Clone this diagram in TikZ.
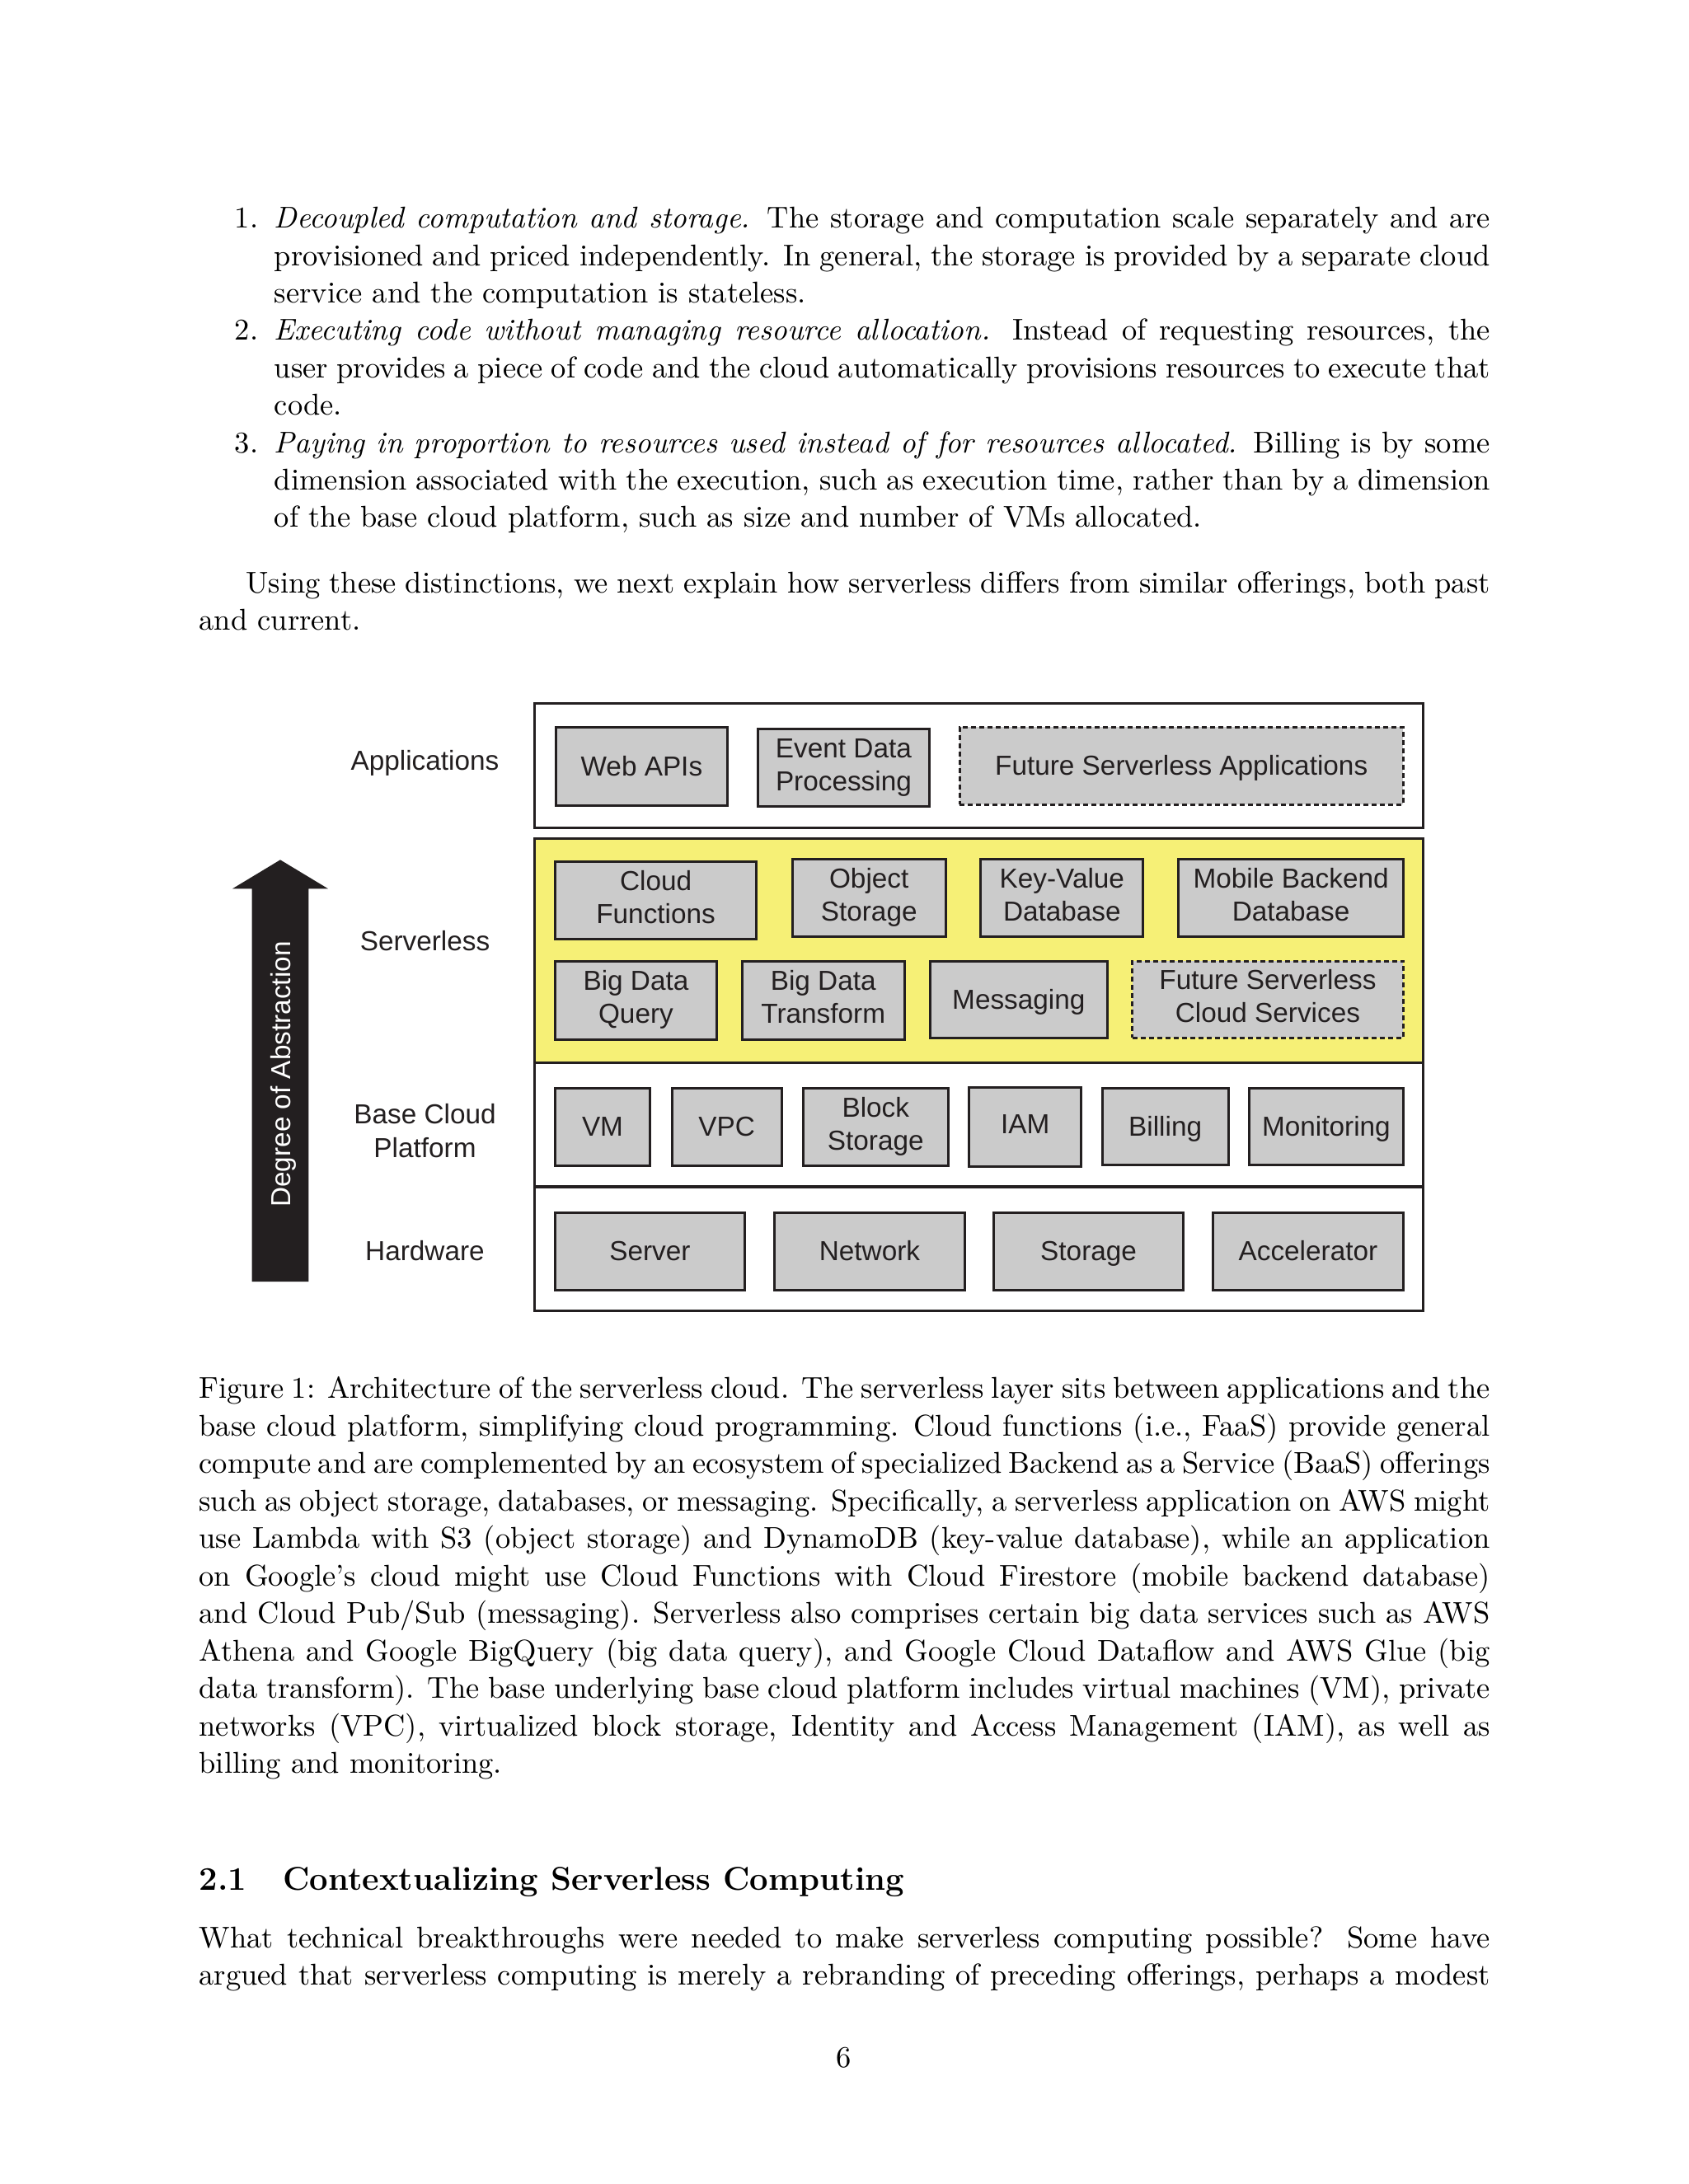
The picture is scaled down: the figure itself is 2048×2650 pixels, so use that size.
\documentclass[tikz,border=0pt]{standalone}
\usepackage{fontspec}
\newfontfamily\dfont{Liberation Sans}
\definecolor{ink}{RGB}{35,31,32}
\definecolor{boxgray}{RGB}{203,203,203}
\definecolor{slyellow}{RGB}{246,240,118}
\newcommand{\bodyfont}{\fontsize{10.95pt}{13.6pt}\selectfont}
\newcommand{\cbox}[6]{\node[#1, minimum width={(#5-#3)*0.29995pt}, minimum height={(#6-#4)*0.29995pt}] (#2) at ({(#3+#5)/2},{(#4+#6)/2}) {};}
\newcommand{\lone}[2]{\node[lab] (#1t) at ([yshift=-3.45pt]#1.center) {#2};}
\newcommand{\ltwo}[3]{\node[lab] (#1t) at ([yshift=3.6pt]#1.center) {#2};\node[lab] (#1u) at ([yshift=-8.4pt]#1.center) {#3};}
\newcommand{\jline}[5]{\node[body] (#1) at (#2,#3) {\makebox[#4][s]{#5}};}
\tikzset{
  layer/.style={draw=ink, line width=0.95pt, rectangle, inner sep=0pt},
  comp/.style={draw=ink, fill=boxgray, line width=0.9pt, rectangle, inner sep=0pt},
  future/.style={comp, dash pattern=on 1.8pt off 1.2pt},
  lab/.style={font={\dfont\fontsize{10pt}{12pt}\selectfont}, text=ink, inner sep=0pt, anchor=base},
  body/.style={font=\bodyfont, inner sep=0pt, anchor=base west, text=black}
}
\begin{document}
\begin{tikzpicture}[x=0.29995pt, y=-0.29995pt]
\useasboundingbox[fill=white] (0,0) rectangle (2048,2650);

% ---------- list ----------
\node[body, anchor=base east] (n1) at (314,276.7) {1.};
\jline{i1a}{332.3}{276.7}{442.38pt}{\textit{Decoupled computation and storage.} The storage and computation scale separately and are}
\jline{i1b}{332.3}{322.1}{442.38pt}{provisioned and priced independently. In general, the storage is provided by a separate cloud}
\node[body] (i1c) at (332.3,367.5) {service and the computation is stateless.};

\node[body, anchor=base east] (n2) at (314,412.9) {2.};
\jline{i2a}{332.3}{412.9}{442.38pt}{\textit{Executing code without managing resource allocation.} Instead of requesting resources, the}
\jline{i2b}{332.3}{458.3}{442.38pt}{user provides a piece of code and the cloud automatically provisions resources to execute that}
\node[body] (i2c) at (332.3,503.7) {code.};

\node[body, anchor=base east] (n3) at (314,549.1) {3.};
\jline{i3a}{332.3}{549.1}{442.38pt}{\textit{Paying in proportion to resources used instead of for resources allocated.} Billing is by some}
\jline{i3b}{332.3}{594.5}{442.38pt}{dimension associated with the execution, such as execution time, rather than by a dimension}
\node[body] (i3c) at (332.3,639.9) {of the base cloud platform, such as size and number of VMs allocated.};

\jline{p1a}{297.6}{719.3}{452.755pt}{Using these distinctions, we next explain how serverless differs from similar offerings, both past}
\node[body] (p1b) at (240.94,764.7) {and current.};

% ---------- figure ----------
\cbox{layer, fill=slyellow}{slayer}{648.6}{1017.7}{1726.5}{1289.3}
\cbox{layer, fill=white}{alayer}{648.6}{853.3}{1726.5}{1004.3}
\cbox{layer, fill=white}{blayer}{648.6}{1289.3}{1726.5}{1440}
\cbox{layer, fill=white}{hlayer}{648.6}{1440}{1726.5}{1590.7}

% applications
\cbox{comp}{web}{674.5}{882}{882.3}{977}
\cbox{comp}{edp}{919.6}{884}{1127.3}{978}
\cbox{future}{fsa}{1164}{882.3}{1702.4}{976}
\lone{web}{Web APIs}
\ltwo{edp}{Event Data}{Processing}
\lone{fsa}{Future Serverless Applications}

% serverless
\cbox{comp}{cf}{673.3}{1045}{917.9}{1139}
\cbox{comp}{os}{961}{1042.3}{1147.4}{1136.3}
\cbox{comp}{kv}{1189.8}{1042.3}{1386.9}{1136.3}
\cbox{comp}{mb}{1429.8}{1042.3}{1702.4}{1136.3}
\ltwo{cf}{Cloud}{Functions}
\ltwo{os}{Object}{Storage}
\ltwo{kv}{Key-Value}{Database}
\ltwo{mb}{Mobile Backend}{Database}
\cbox{comp}{bdq}{673.3}{1166.7}{869.6}{1261}
\cbox{comp}{bdt}{900}{1166.7}{1097.5}{1261}
\cbox{comp}{msg}{1128}{1166}{1343.7}{1259.3}
\cbox{future}{fsc}{1373.5}{1166}{1702.4}{1259.3}
\ltwo{bdq}{Big Data}{Query}
\ltwo{bdt}{Big Data}{Transform}
\lone{msg}{Messaging}
\ltwo{fsc}{Future Serverless}{Cloud Services}

% base cloud platform
\cbox{comp}{vm}{673.3}{1320}{788.7}{1414.3}
\cbox{comp}{vpc}{815.1}{1320}{948.3}{1414.3}
\cbox{comp}{bs}{974.1}{1320}{1150.5}{1414.3}
\cbox{comp}{iam}{1175.9}{1319.3}{1311.8}{1415.3}
\cbox{comp}{bil}{1337.1}{1320.7}{1490.2}{1413.7}
\cbox{comp}{mon}{1515.5}{1320.7}{1702.4}{1413.7}
\lone{vm}{VM}
\lone{vpc}{VPC}
\ltwo{bs}{Block}{Storage}
\node[lab] (iamt) at ([yshift=-2.4pt]iam.center) {IAM};
\lone{bil}{Billing}
\lone{mon}{Monitoring}

% hardware
\cbox{comp}{srv}{673.3}{1471}{903.5}{1565}
\cbox{comp}{net}{939.7}{1471}{1170.2}{1565}
\cbox{comp}{sto}{1205.3}{1471}{1435.9}{1565}
\cbox{comp}{acc}{1471.4}{1471}{1702.4}{1565}
\lone{srv}{Server}
\lone{net}{Network}
\lone{sto}{Storage}
\lone{acc}{Accelerator}

% row labels
\node[lab] (rapp) at (515.5,934.3) {Applications};
\node[lab] (rsrv) at (515.5,1153.3) {Serverless};
\node[lab] (rbase1) at (515.5,1363.3) {Base Cloud};
\node[lab] (rbase2) at (515.5,1404) {Platform};
\node[lab] (rhw) at (515.5,1529.3) {Hardware};

% abstraction arrow
\fill[ink] (305.6,1555) -- (305.6,1078.3) -- (282,1078.3) -- (340,1043.3) -- (398,1078.3) -- (374.4,1078.3) -- (374.4,1555) -- cycle;
\node[lab, text=white, rotate=90] (abs) at (352,1303.5) {Degree of Abstraction};

% ---------- caption ----------
\jline{c1}{240.94}{1696.7}{469.755pt}{Figure 1: Architecture of the serverless cloud. The serverless layer sits between applications and the}
\jline{c2}{240.94}{1742.2}{469.755pt}{base cloud platform, simplifying cloud programming. Cloud functions (i.e., FaaS) provide general}
\jline{c3}{240.94}{1787.7}{469.755pt}{compute and are complemented by an ecosystem of specialized Backend as a Service (BaaS) offerings}
\jline{c4}{240.94}{1833.2}{469.755pt}{such as object storage, databases, or messaging. Specifically, a serverless application on AWS might}
\jline{c5}{240.94}{1878.7}{469.755pt}{use Lambda with S3 (object storage) and DynamoDB (key-value database), while an application}
\jline{c6}{240.94}{1924.2}{469.755pt}{on Google’s cloud might use Cloud Functions with Cloud Firestore (mobile backend database)}
\jline{c7}{240.94}{1969.7}{469.755pt}{and Cloud Pub/Sub (messaging). Serverless also comprises certain big data services such as AWS}
\jline{c8}{240.94}{2015.2}{469.755pt}{Athena and Google BigQuery (big data query), and Google Cloud Dataflow and AWS Glue (big}
\jline{c9}{240.94}{2060.7}{469.755pt}{data transform). The base underlying base cloud platform includes virtual machines (VM), private}
\jline{c10}{240.94}{2106.2}{469.755pt}{networks (VPC), virtualized block storage, Identity and Access Management (IAM), as well as}
\node[body] (c11) at (240.94,2151.7) {billing and monitoring.};

% ---------- section ----------
\node[body, font={\fontsize{12pt}{14.5pt}\selectfont\bfseries}] (sec) at (240.94,2293.3) {2.1\quad\hspace{1.2pt}Contextualizing Serverless Computing};
\jline{s1}{240.94}{2363.3}{469.755pt}{What technical breakthroughs were needed to make serverless computing possible? Some have}
\jline{s2}{240.94}{2408.7}{469.755pt}{argued that serverless computing is merely a rebranding of preceding offerings, perhaps a modest}

\node[body, anchor=base] (pg) at (1024,2508.3) {6};
\end{tikzpicture}
\end{document}
